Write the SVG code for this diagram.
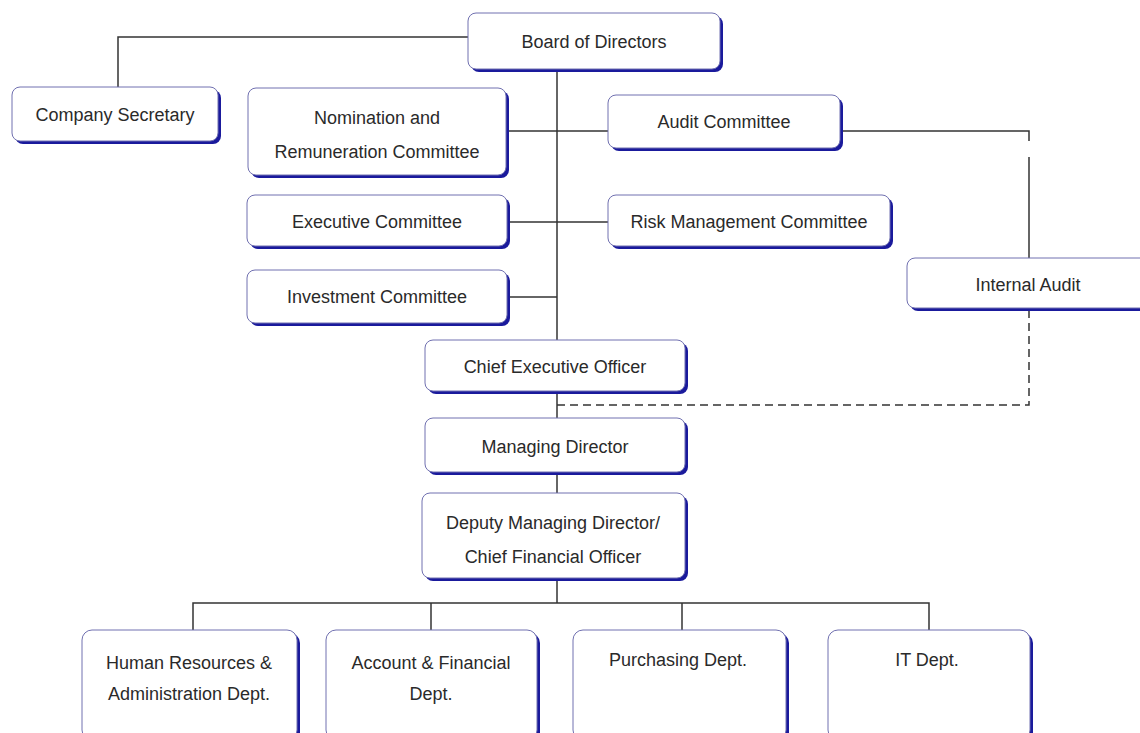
<svg xmlns="http://www.w3.org/2000/svg" width="1140" height="733" viewBox="0 0 1140 733">
<style>
.sh{fill:#1a1a9c}
.bx{fill:#ffffff;stroke:#7070b0;stroke-width:1}
.ln{fill:none;stroke:#333333;stroke-width:1.5}
.ds{fill:none;stroke:#333333;stroke-width:1.5;stroke-dasharray:8 5}
text{font-family:"Liberation Sans",Arial,sans-serif;font-size:18px;fill:#2a2a2a;text-anchor:middle}
</style>
<rect width="1140" height="733" fill="#ffffff"/>
<g id="connectors">
<path class="ln" d="M557,70 V603"/>
<path class="ln" d="M468,37 H118 V87"/>
<path class="ln" d="M508,131 H608"/>
<path class="ln" d="M508,222 H608"/>
<path class="ln" d="M508,297 H557"/>
<path class="ln" d="M841,131 H1029 V141"/>
<path class="ln" d="M1029,157 V258"/>
<path class="ds" d="M1029,310 V405 H557"/>
<path class="ln" d="M193,630 V603 H929 V630"/>
<path class="ln" d="M431,603 V630"/>
<path class="ln" d="M682,603 V630"/>
</g>
<g id="board">
<rect class="sh" x="471" y="16" width="252" height="56" rx="8"/>
<rect class="bx" x="468" y="13" width="252" height="56" rx="8"/>
<text x="594" y="48">Board of Directors</text>
</g>
<g id="company-secretary">
<rect class="sh" x="15" y="90" width="206" height="54" rx="8"/>
<rect class="bx" x="12" y="87" width="206" height="54" rx="8"/>
<text x="115" y="121">Company Secretary</text>
</g>
<g id="nomination">
<rect class="sh" x="251" y="91" width="258" height="87" rx="8"/>
<rect class="bx" x="248" y="88" width="258" height="87" rx="8"/>
<text x="377" y="124">Nomination and</text>
<text x="377" y="158">Remuneration Committee</text>
</g>
<g id="audit-committee">
<rect class="sh" x="611" y="98" width="232" height="53" rx="8"/>
<rect class="bx" x="608" y="95" width="232" height="53" rx="8"/>
<text x="724" y="128">Audit Committee</text>
</g>
<g id="executive-committee">
<rect class="sh" x="250" y="198" width="260" height="51" rx="8"/>
<rect class="bx" x="247" y="195" width="260" height="51" rx="8"/>
<text x="377" y="228">Executive Committee</text>
</g>
<g id="risk-committee">
<rect class="sh" x="611" y="198" width="282" height="51" rx="8"/>
<rect class="bx" x="608" y="195" width="282" height="51" rx="8"/>
<text x="749" y="228">Risk Management Committee</text>
</g>
<g id="investment-committee">
<rect class="sh" x="250" y="273" width="260" height="53" rx="8"/>
<rect class="bx" x="247" y="270" width="260" height="53" rx="8"/>
<text x="377" y="303">Investment Committee</text>
</g>
<g id="internal-audit">
<rect class="sh" x="910" y="261" width="242" height="50" rx="8"/>
<rect class="bx" x="907" y="258" width="242" height="50" rx="8"/>
<text x="1028" y="291">Internal Audit</text>
</g>
<g id="ceo">
<rect class="sh" x="428" y="343" width="260" height="51" rx="8"/>
<rect class="bx" x="425" y="340" width="260" height="51" rx="8"/>
<text x="555" y="373">Chief Executive Officer</text>
</g>
<g id="md">
<rect class="sh" x="428" y="421" width="260" height="54" rx="8"/>
<rect class="bx" x="425" y="418" width="260" height="54" rx="8"/>
<text x="555" y="453">Managing Director</text>
</g>
<g id="deputy">
<rect class="sh" x="425" y="496" width="263" height="85" rx="8"/>
<rect class="bx" x="422" y="493" width="263" height="85" rx="8"/>
<text x="553" y="529">Deputy Managing Director/</text>
<text x="553" y="563">Chief Financial Officer</text>
</g>
<g id="hr">
<rect class="sh" x="85" y="633" width="215" height="110" rx="10"/>
<rect class="bx" x="82" y="630" width="215" height="110" rx="10"/>
<text x="189" y="669">Human Resources &amp;</text>
<text x="189" y="700">Administration Dept.</text>
</g>
<g id="account">
<rect class="sh" x="329" y="633" width="211" height="110" rx="10"/>
<rect class="bx" x="326" y="630" width="211" height="110" rx="10"/>
<text x="431" y="669">Account &amp; Financial</text>
<text x="431" y="700">Dept.</text>
</g>
<g id="purchasing">
<rect class="sh" x="576" y="633" width="213" height="110" rx="10"/>
<rect class="bx" x="573" y="630" width="213" height="110" rx="10"/>
<text x="678" y="666">Purchasing Dept.</text>
</g>
<g id="it">
<rect class="sh" x="831" y="633" width="202" height="110" rx="10"/>
<rect class="bx" x="828" y="630" width="202" height="110" rx="10"/>
<text x="927" y="666">IT Dept.</text>
</g>
</svg>
